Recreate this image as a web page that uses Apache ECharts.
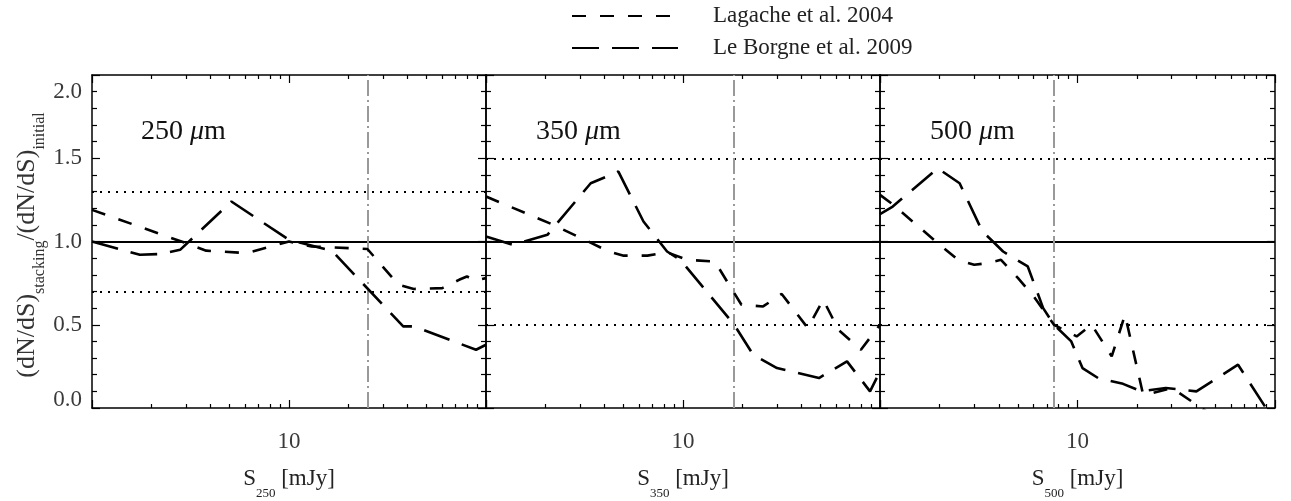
<!DOCTYPE html>
<html><head><meta charset="utf-8">
<script src="https://cdn.jsdelivr.net/npm/echarts@6/dist/echarts.min.js"></script>
<style>html,body{margin:0;padding:0;background:#fff}#c{width:1291px;height:501px}</style>
</head><body><div id="c"></div>
<script>
// ---- data ----
const bands = ['250', '350', '500'];
const seriesNames = ['Lagache et al. 2004', 'Le Borgne et al. 2009'];
const xTickLabels = ['10'];
const yTickLabels = ['0.0', '0.5', '1.0', '1.5', '2.0'];
// confusion-limit vertical lines (mJy)
const vlines = [25, 18, 7.6];
// dotted reference levels per panel
const dottedLevels = [[1.3, 0.7], [1.5, 0.5], [1.5, 0.5]];
const unityLevel = 1.0;

const lag250 = [[1.0,1.19],[3.0,0.99],[3.8,0.945],[6.1,0.93],[10,1.0],[13,0.97],[25,0.955],[36,0.74],[43,0.715],[60,0.72],[73,0.77],[80,0.79],[88,0.765],[100,0.78]];
const lb250  = [[1.0,1.0],[1.75,0.92],[2.25,0.925],[2.8,0.95],[5.1,1.24],[10,1.01],[16.5,0.945],[38,0.49],[43,0.49],[89,0.35],[100,0.38]];

const lag350 = [[1,1.27],[2.2,1.10],[4.2,0.94],[5.0,0.915],[6.6,0.915],[8.3,0.935],[10.5,0.89],[14.5,0.88],[19.8,0.62],[25.5,0.61],[31.7,0.685],[43,0.48],[51.5,0.65],[61.5,0.47],[80,0.35],[100,0.5]];
const lb350  = [[1,1.03],[1.37,0.98],[2.05,1.04],[3.4,1.35],[4.7,1.42],[6.3,1.12],[8.3,0.94],[9.7,0.89],[18.2,0.5],[22.7,0.32],[30,0.24],[49,0.18],[68,0.28],[89,0.1],[100,0.22]];

const lag500 = [[1,1.28],[1.14,1.23],[1.92,1.0],[2.48,0.89],[3.0,0.86],[3.5,0.87],[4.1,0.89],[5.0,0.78],[6.0,0.67],[7.6,0.5],[9.9,0.43],[11.8,0.5],[14.9,0.31],[17.4,0.56],[21.5,0.08],[24,0.09],[30,0.12],[45,-0.02]];
const lb500  = [[1,1.165],[1.16,1.21],[1.96,1.44],[2.53,1.35],[3.3,1.06],[3.73,1.0],[4.2,0.94],[5.6,0.85],[6.7,0.6],[7.6,0.5],[9.3,0.4],[10.6,0.24],[12.7,0.18],[17,0.145],[21,0.1],[28,0.12],[40,0.1],[65,0.26],[90,0.0],[100,-0.12]];

const lagData = [lag250, lag350, lag500];
const lbData = [lb250, lb350, lb500];

// ---- layout / style ----
const FONT = "'Liberation Serif', 'DejaVu Serif', serif";
const gridLefts = [92, 486, 880];
const gridWidths = [394, 394, 395];
const TOP = 75, HEIGHT = 333;

const grids = [], xAxes = [], yAxes = [], series = [], graphics = [];

function yLabel(v) {
  const idx = Math.round(v * 2);
  const t = yTickLabels[idx];
  if (idx === yTickLabels.length - 1) return '{tp|' + t + '}';
  if (idx === 0) return '{bt|' + t + '}';
  return t;
}

for (let i = 0; i < 3; i++) {
  grids.push({left: gridLefts[i], top: TOP, width: gridWidths[i], height: HEIGHT,
    containLabel: false, outerBoundsMode: 'none'});
  ['bottom', 'top'].forEach(pos => {
    const isBottom = pos === 'bottom';
    xAxes.push({
      type: 'log', logBase: 10, gridIndex: i, position: pos, min: 1, max: 100,
      axisLine: {show: true, onZero: false, lineStyle: {color: '#000', width: 1.5}},
      axisTick: {show: true, inside: true, length: 8, lineStyle: {color: '#000', width: 1.2}},
      minorTick: {show: true, splitNumber: 9, length: 4, lineStyle: {color: '#000', width: 1.2}},
      splitLine: {show: false}, minorSplitLine: {show: false},
      axisLabel: {show: isBottom, margin: 22, fontSize: 23, fontFamily: FONT, color: '#3a3a3a',
        formatter: v => (xTickLabels.indexOf(String(Math.round(v))) >= 0 && Math.abs(v - Math.round(v)) < 1e-6) ? String(Math.round(v)) : ''},
      name: isBottom ? 'S{sub|' + bands[i] + '} [mJy]' : '',
      nameLocation: 'middle', nameGap: 46,
      nameTextStyle: {fontFamily: FONT, fontSize: 23, color: '#222', lineHeight: 42,
        rich: {sub: {fontFamily: FONT, fontSize: 13, color: '#222', verticalAlign: 'bottom', lineHeight: 16}}}
    });
  });
  ['left', 'right'].forEach(pos => {
    const showLab = (i === 0 && pos === 'left');
    yAxes.push({
      type: 'value', gridIndex: i, position: pos, min: 0, max: 2, interval: 0.5,
      axisLine: {show: true, onZero: false, lineStyle: {color: '#000', width: 1.5}},
      axisTick: {show: true, inside: true, length: 8, lineStyle: {color: '#000', width: 1.2}},
      minorTick: {show: true, splitNumber: 5, length: 5, lineStyle: {color: '#000', width: 1.2}},
      splitLine: {show: false}, minorSplitLine: {show: false},
      axisLabel: {show: showLab, margin: 10, fontSize: 23, fontFamily: FONT, color: '#3a3a3a',
        formatter: yLabel,
        rich: {
          tp: {fontFamily: FONT, fontSize: 23, color: '#3a3a3a', padding: [34, 0, 0, 0]},
          bt: {fontFamily: FONT, fontSize: 23, color: '#3a3a3a', padding: [0, 0, 16, 0]}
        }}
    });
  });

  const h = dottedLevels[i];
  series.push({
    name: seriesNames[0], type: 'line', xAxisIndex: 2 * i, yAxisIndex: 2 * i,
    data: lagData[i], symbol: 'none', clip: true, animation: false, z: 5,
    lineStyle: {color: '#000', width: 2.6, type: [14, 14]},
    markLine: {
      silent: true, symbol: ['none', 'none'], label: {show: false}, animation: false,
      data: [
        {yAxis: unityLevel, lineStyle: {color: '#000', width: 2, type: 'solid'}},
        {yAxis: h[0], lineStyle: {color: '#000', width: 2, type: [2, 6]}},
        {yAxis: h[1], lineStyle: {color: '#000', width: 2, type: [2, 6]}},
        {xAxis: vlines[i], lineStyle: {color: '#999', width: 2, type: [16, 4, 2, 4]}}
      ]
    }
  });
  series.push({
    name: seriesNames[1], type: 'line', xAxisIndex: 2 * i, yAxisIndex: 2 * i,
    data: lbData[i], symbol: 'none', clip: true, animation: false, z: 5,
    lineStyle: {color: '#000', width: 2.6, type: [27, 13]}
  });

  graphics.push({
    type: 'text', left: gridLefts[i] + (i === 0 ? 49 : 50), top: 118,
    style: {text: bands[i] + ' {mu|μ}m', fontFamily: FONT, fontSize: 28, fill: '#111',
      rich: {mu: {fontFamily: FONT, fontSize: 28, fontStyle: 'italic', fill: '#111'}}}
  });
}

graphics.push({
  type: 'text', x: 27, y: 245, rotation: Math.PI / 2,
  style: {text: '(dN/dS){s|stacking}/(dN/dS){s|initial}', fontFamily: FONT, fontSize: 26, fill: '#333',
    align: 'center', verticalAlign: 'middle', lineHeight: 42,
    rich: {s: {fontFamily: FONT, fontSize: 16, fill: '#333', verticalAlign: 'bottom', lineHeight: 19}}}
});

const chart = echarts.init(document.getElementById('c'), null, {renderer: 'canvas'});
chart.setOption({
  backgroundColor: '#fff',
  animation: false,
  legend: {
    data: seriesNames, orient: 'vertical', left: 566, top: -2,
    itemWidth: 106, itemHeight: 20, itemGap: 6, selectedMode: false,
    itemStyle: {opacity: 0},
    formatter: '{g| }{name}',
    textStyle: {fontFamily: FONT, fontSize: 23, color: '#222', lineHeight: 26,
      rich: {g: {width: 30}}}
  },
  grid: grids, xAxis: xAxes, yAxis: yAxes, series: series, graphic: graphics
});
</script></body></html>
